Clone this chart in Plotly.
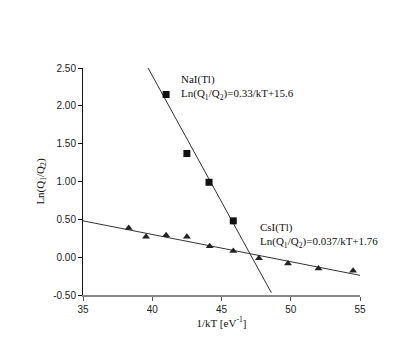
import plotly.graph_objects as go

# NaI(Tl) data
nai_x = [41.0, 42.5, 44.1, 45.85]
nai_y = [2.15, 1.37, 0.99, 0.48]
# CsI(Tl) data
csi_x = [38.3, 39.55, 41.0, 42.5, 44.15, 45.85, 47.7, 49.8, 52.0, 54.5]
csi_y = [0.385, 0.27, 0.29, 0.27, 0.145, 0.083, -0.015, -0.085, -0.15, -0.18]
# fitted lines (endpoints)
nai_fit_x = [39.7, 48.6]
nai_fit_y = [2.50, -0.47]
csi_fit_x = [35.0, 55.0]
csi_fit_y = [0.48, -0.24]

x_ticks = [35, 40, 45, 50, 55]
y_ticks = [-0.5, 0.0, 0.5, 1.0, 1.5, 2.0, 2.5]

serif = "Liberation Serif, Times New Roman, serif"
sans = "Liberation Sans, Arial, sans-serif"

fig = go.Figure()
fig.add_trace(go.Scatter(x=nai_fit_x, y=nai_fit_y, mode="lines",
                         line=dict(color="#333333", width=1), showlegend=False))
fig.add_trace(go.Scatter(x=csi_fit_x, y=csi_fit_y, mode="lines",
                         line=dict(color="#333333", width=1), showlegend=False))
fig.add_trace(go.Scatter(x=nai_x, y=nai_y, mode="markers",
                         marker=dict(symbol="square", size=7, color="#111111"),
                         showlegend=False))
fig.add_trace(go.Scatter(x=csi_x, y=csi_y, mode="markers",
                         marker=dict(symbol="triangle-up", size=7, color="#222222"),
                         showlegend=False))

fig.add_annotation(x=41.95, y=2.46, xref="x", yref="y", xanchor="left", yanchor="top",
                   text="NaI(Tl)<br>Ln(Q<sub>1</sub>/Q<sub>2</sub>)=0.33/kT+15.6",
                   showarrow=False, align="left",
                   font=dict(family=serif, size=11, color="#111111"))
fig.add_annotation(x=47.6, y=0.51, xref="x", yref="y", xanchor="left", yanchor="top",
                   text="CsI(Tl)<br>Ln(Q<sub>1</sub>/Q<sub>2</sub>)=0.037/kT+1.76",
                   showarrow=False, align="left",
                   font=dict(family=serif, size=11, color="#111111"))

fig.update_layout(
    width=415, height=340,
    margin=dict(l=75, r=63, t=60, b=53),
    paper_bgcolor="white", plot_bgcolor="white",
    xaxis=dict(range=[35, 55], tickvals=x_ticks, ticktext=[str(v) for v in x_ticks],
               showgrid=False, zeroline=False, showline=True, linecolor="#888888",
               linewidth=2, ticks="outside", ticklen=4, tickcolor="#555555",
               tickfont=dict(family=sans, size=10, color="#222222"),
               title=dict(text="1/kT [eV<sup>-1</sup>]", standoff=4,
                          font=dict(family=serif, size=11, color="#111111"))),
    yaxis=dict(range=[-0.5, 2.5], tickvals=y_ticks, ticktext=[f"{v:.2f}" for v in y_ticks],
               showgrid=False, zeroline=False, showline=True, linecolor="#111111",
               linewidth=1, ticks="outside", ticklen=4, tickcolor="#111111",
               tickfont=dict(family=sans, size=10, color="#222222"),
               title=dict(text="Ln(Q<sub>1</sub>/Q<sub>2</sub>)", standoff=6,
                          font=dict(family=serif, size=11, color="#111111"))),
)

fig.write_html("out.html")
